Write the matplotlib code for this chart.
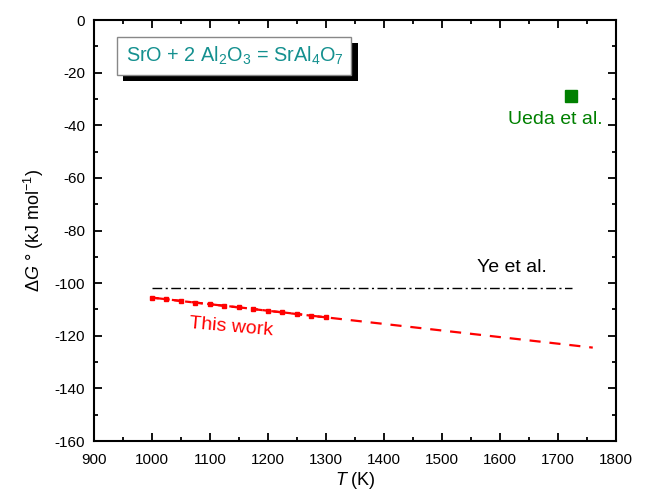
import matplotlib
matplotlib.use("Agg")
import matplotlib.pyplot as plt
from matplotlib.patches import Rectangle
from matplotlib.ticker import MultipleLocator

plt.rcParams['font.family'] = ['Liberation Sans', 'DejaVu Sans']
plt.rcParams['mathtext.fontset'] = 'custom'
plt.rcParams['mathtext.rm'] = 'Liberation Sans'
plt.rcParams['mathtext.it'] = 'Liberation Sans:italic'
plt.rcParams['axes.unicode_minus'] = False

# this work: measured points and extrapolated fit
t_work = [1000, 1025, 1050, 1075, 1100, 1125, 1150, 1175, 1200, 1225, 1250, 1275, 1300]
g_work = [-105.5, -106.1, -106.8, -107.4, -108.0, -108.6, -109.2, -109.8, -110.5, -111.1, -111.7, -112.4, -113.0]
t_fit = [1000, 1760]
g_fit = [-105.5, -124.5]

# Ye et al.
t_ye = [1000, 1725]
g_ye = [-102.0, -102.0]

# Ueda et al.
t_ueda = [1723]
g_ueda = [-29.0]

teal = '#14908f'

fig = plt.figure(figsize=(6.46, 4.9), dpi=100)
ax = fig.add_axes([0.1455, 0.100, 0.808, 0.859])

ax.plot(t_fit, g_fit, color='red', lw=1.6, ls=(0, (5, 4)))
ax.plot(t_work, g_work, color='red', lw=1.6, ls=(0, (3, 2)), marker='s', ms=3)
ax.plot(t_ye, g_ye, color='black', lw=1.0, ls=(0, (7, 2.5, 1.5, 2.5)))
ax.plot(t_ueda, g_ueda, ls='none', marker='s', ms=8, color='#008000')

ax.text(1560, -94, 'Ye et al.', fontsize=14, color='black', ha='left', va='center')
ax.text(1136, -116.7, 'This work', fontsize=14, color='red', ha='center', va='center', rotation=-5)
ax.text(1695, -37.6, 'Ueda et al.', fontsize=14, color='#008000', ha='center', va='center')

ax.set_xlim(900, 1800)
ax.set_ylim(-160, 0)
ax.xaxis.set_major_locator(MultipleLocator(100))
ax.xaxis.set_minor_locator(MultipleLocator(50))
ax.yaxis.set_major_locator(MultipleLocator(20))
ax.yaxis.set_minor_locator(MultipleLocator(10))
ax.tick_params(which='both', direction='in', top=True, right=True, width=1.3, labelsize=11)
ax.tick_params(which='major', length=6)
ax.tick_params(which='minor', length=3)
ax.tick_params(axis='x', which='major', pad=8.5)
ax.tick_params(axis='y', which='major', pad=6.5)
for s in ax.spines.values():
    s.set_linewidth(1.5)

ax.set_xlabel(r'$\mathit{T}$ (K)', fontsize=13, labelpad=2)
ax.set_ylabel(r'$\Delta\mathit{G}$ ° (kJ mol$^{-1}$)', fontsize=13, labelpad=6)

# reaction box with drop shadow
fig.patches.append(Rectangle((123 / 646, 1 - 81 / 490), 235 / 646, 38 / 490,
                             transform=fig.transFigure, facecolor='black', edgecolor='none'))
fig.patches.append(Rectangle((117 / 646, 1 - 75 / 490), 234 / 646, 38 / 490,
                             transform=fig.transFigure, facecolor='white', edgecolor='#888888', lw=1))
fig.text(235 / 646, 1 - 56 / 490, r'SrO + 2 Al$_2$O$_3$ = SrAl$_4$O$_7$',
         fontsize=14.3, color=teal, ha='center', va='center')

fig.savefig('out.png', dpi=100)
